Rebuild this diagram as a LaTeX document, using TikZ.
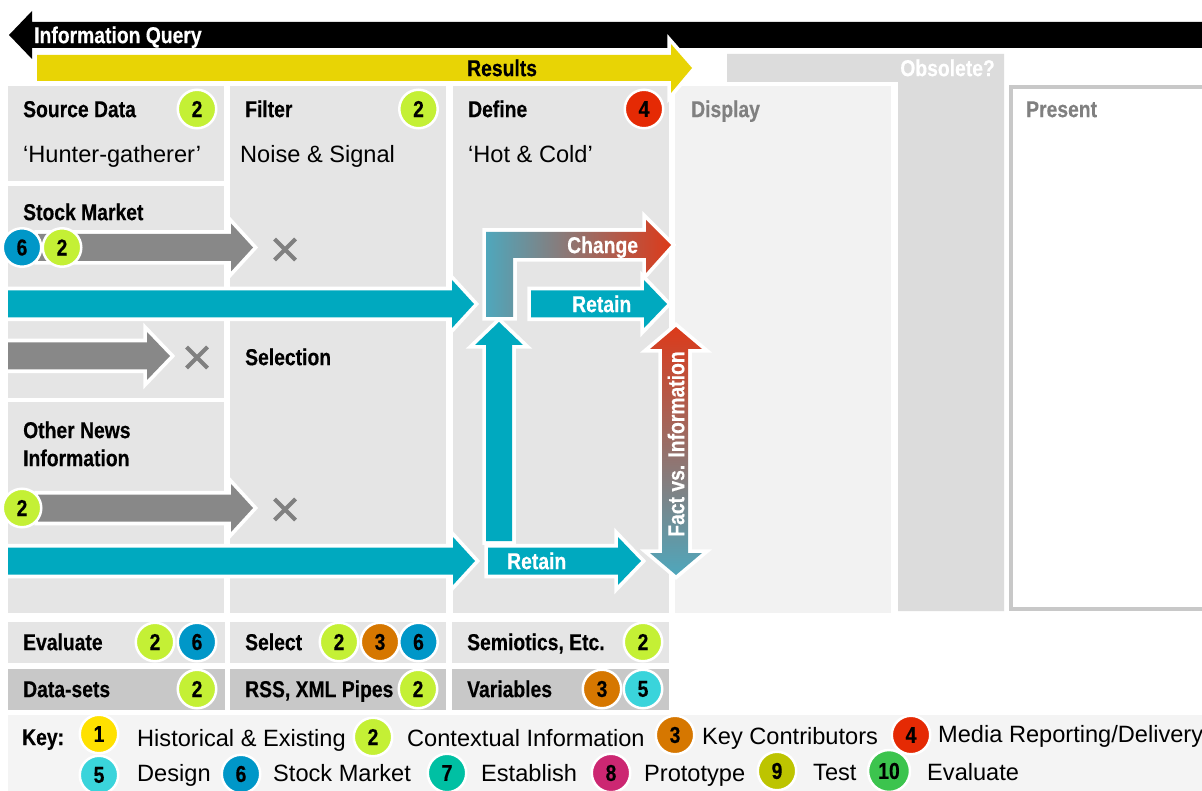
\documentclass[tikz,border=0pt]{standalone}
\usepackage{fontspec}
\setmainfont{Liberation Sans}
\newfontfamily\cnfont[FakeStretch=0.84,BoldFeatures={FakeBold=0.35}]{Liberation Sans}
\definecolor{panel}{HTML}{E5E5E5}
\definecolor{paneldark}{HTML}{C8C8C8}
\definecolor{displaybg}{HTML}{F2F2F2}
\definecolor{obsbg}{HTML}{DCDCDC}
\definecolor{keybg}{HTML}{F4F4F4}
\definecolor{teal}{HTML}{00A9BF}
\definecolor{tealsoft}{HTML}{4FA7BC}
\definecolor{redsoft}{HTML}{DC3A1A}
\definecolor{grayarrow}{HTML}{888888}
\definecolor{yellowarrow}{HTML}{E8D405}
\definecolor{greytext}{HTML}{808080}
\definecolor{cA}{HTML}{FFE100}
\definecolor{cB}{HTML}{C4F035}
\definecolor{cC}{HTML}{D67700}
\definecolor{cD}{HTML}{E52A04}
\definecolor{cE}{HTML}{3AD4DB}
\definecolor{cF}{HTML}{0097C8}
\definecolor{cG}{HTML}{00C0A3}
\definecolor{cH}{HTML}{CC2772}
\definecolor{cI}{HTML}{BDC400}
\definecolor{cJ}{HTML}{3CC44E}
\tikzset{
  badge/.style={circle,minimum size=38.5pt,inner sep=0pt,draw=white,line width=2.5pt,fill=#1,text=black,font=\cnfont\bfseries\fontsize{23}{23}\selectfont},
  lbl/.style={anchor=mid west,inner sep=0pt,yshift=-5.5pt,text=black,font=\cnfont\bfseries\fontsize{23}{23}\selectfont},
  lblw/.style={lbl,text=white},
  lblg/.style={lbl,text=greytext},
  lblv/.style={inner sep=0pt,rotate=90,anchor=center,text=white,font=\cnfont\bfseries\fontsize{23}{23}\selectfont},
  plain/.style={anchor=mid west,inner sep=0pt,yshift=-5.5pt,text=black,font=\fontsize{23.6}{23.6}\selectfont},
  halo/.style={draw=white,line width=7.5pt,line join=miter,miter limit=10},
  crossmark/.style={draw=greytext,line width=4pt},
}
% #1 xstart, #2 head back, #3 tip, #4 y centre, #5 fill options
\newcommand{\rarrow}[5]{%
  \path[halo] (#1,#4-13.5) -- (#2,#4-13.5) -- (#2,#4-24) -- (#3,#4) -- (#2,#4+24) -- (#2,#4+13.5) -- (#1,#4+13.5) -- cycle;
  \path[#5] (#1,#4-13.5) -- (#2,#4-13.5) -- (#2,#4-24) -- (#3,#4) -- (#2,#4+24) -- (#2,#4+13.5) -- (#1,#4+13.5) -- cycle;}
\begin{document}
\begin{tikzpicture}[x=1pt,y=-1pt]
\clip (0,0) rectangle (1202,791);
\fill[white] (0,0) rectangle (1202,791);
% panels
\fill[panel] (8,86) rectangle (224,181);
\fill[panel] (8,186) rectangle (224,287);
\fill[panel] (8,321) rectangle (224,398);
\fill[panel] (8,402) rectangle (224,613);
\fill[panel] (230,86) rectangle (446,287);
\fill[panel] (230,321) rectangle (446,613);
\fill[panel] (453,86) rectangle (669,613);
\fill[displaybg] (675,86) rectangle (891,613);
\fill[obsbg] (727,54) -- (1004,54) -- (1004,611) -- (898,611) -- (898,82) -- (727,82) -- cycle;
\draw[paneldark,line width=4pt] (1011,87) rectangle (1220,609);
\fill[panel] (8,622) rectangle (225,663);
\fill[panel] (230,622) rectangle (446,663);
\fill[panel] (452,622) rectangle (669,663);
\fill[paneldark] (8,669) rectangle (225,710);
\fill[paneldark] (230,669) rectangle (446,710);
\fill[paneldark] (452,669) rectangle (669,710);
\fill[keybg] (8,715) rectangle (1202,791);
% black query arrow
\fill[black] (9,35) -- (32,11) -- (32,22) -- (1202,22) -- (1202,48) -- (32,48) -- (32,59) -- cycle;
% yellow results arrow
\path[halo] (37,55) -- (671,55) -- (671,44) -- (692,68) -- (671,93) -- (671,81) -- (37,81) -- cycle;
\fill[yellowarrow] (37,55) -- (671,55) -- (671,44) -- (692,68) -- (671,93) -- (671,81) -- (37,81) -- cycle;
% grey arrows
\rarrow{38}{231}{253}{247.5}{fill=grayarrow}
\rarrow{8}{147}{170}{356}{fill=grayarrow}
\rarrow{38}{231}{253}{508}{fill=grayarrow}
% teal long arrows
\rarrow{8}{452}{474}{304}{fill=teal}
\rarrow{8}{453}{475}{561}{fill=teal}
% vertical teal
\path[halo] (486,541) -- (486,345) -- (475,345) -- (499,322) -- (523,345) -- (512,345) -- (512,541) -- cycle;
\fill[teal] (486,541) -- (486,345) -- (475,345) -- (499,322) -- (523,345) -- (512,345) -- (512,541) -- cycle;
% change arrow
\path[halo] (486,317) -- (486,232) -- (646,232) -- (646,220) -- (671,245) -- (646,273) -- (646,258) -- (513,258) -- (513,317) -- cycle;
\shade[left color=tealsoft,right color=redsoft] (486,317) -- (486,232) -- (646,232) -- (646,220) -- (671,245) -- (646,273) -- (646,258) -- (513,258) -- (513,317) -- cycle;
% retain arrows
\rarrow{531}{644}{667}{304}{fill=teal}
\rarrow{488}{618}{641}{561}{fill=teal}
% fact vs information
\path[halo] (662,349) -- (650,349) -- (676,327) -- (702,349) -- (688,349) -- (688,553) -- (702,553) -- (676,575) -- (650,553) -- (662,553) -- cycle;
\shade[top color=redsoft,bottom color=tealsoft] (662,349) -- (650,349) -- (676,327) -- (702,349) -- (688,349) -- (688,553) -- (702,553) -- (676,575) -- (650,553) -- (662,553) -- cycle;
% crosses
\draw[crossmark] (274.5,239) -- (295.5,260) (274.5,260) -- (295.5,239);
\draw[crossmark] (186.5,347) -- (207.5,368) (186.5,368) -- (207.5,347);
\draw[crossmark] (274.5,499) -- (295.5,520) (274.5,520) -- (295.5,499);
% arrow and header labels
\node[lblw] (tq) at (34,35) {Information Query};
\node[lbl] (tr) at (467,68) {Results};
\node[lblw,anchor=mid east] (to) at (995,68) {Obsolete?};
\node[lblw] (tc) at (567,245) {Change};
\node[lblw] (tr2) at (572,304) {Retain};
\node[lblw] (tr3) at (507,561) {Retain};
\node[lblv] (tf) at (676,444) {Fact vs. Information};
\node[lbl] (t1) at (23,109) {Source Data};
\node[plain] (t2) at (23,154) {‘Hunter-gatherer’};
\node[lbl] (t3) at (245,109) {Filter};
\node[plain] (t4) at (240,154) {Noise \& Signal};
\node[lbl] (t5) at (468,109) {Define};
\node[plain] (t6) at (468,154) {‘Hot \& Cold’};
\node[lblg] (t7) at (691,109) {Display};
\node[lblg] (t8) at (1026,109) {Present};
\node[lbl] (t9) at (23,212) {Stock Market};
\node[lbl] (t10) at (245,357) {Selection};
\node[lbl] (t11) at (23,430) {Other News};
\node[lbl] (t12) at (23,458) {Information};
\node[lbl] (t13) at (23,642) {Evaluate};
\node[lbl] (t14) at (245,642) {Select};
\node[lbl] (t15) at (467,642) {Semiotics, Etc.};
\node[lbl] (t16) at (23,689) {Data-sets};
\node[lbl] (t17) at (245,689) {RSS, XML Pipes};
\node[lbl] (t18) at (467,689) {Variables};
\node[lbl] (t19) at (22,737) {Key:};
\node[plain] (k1) at (137,738) {Historical \& Existing};
\node[plain] (k2) at (407,738) {Contextual Information};
\node[plain] (k3) at (702,736) {Key Contributors};
\node[plain] (k4) at (938,734) {Media Reporting/Delivery};
\node[plain] (k5) at (137,773) {Design};
\node[plain] (k6) at (273,773) {Stock Market};
\node[plain] (k7) at (481,773) {Establish};
\node[plain] (k8) at (644,773) {Prototype};
\node[plain] (k9) at (813,772) {Test};
\node[plain] (k10) at (927,772) {Evaluate};
% badges
\node[badge=cB] (b1) at (197,109) {2};
\node[badge=cB] (b2) at (418.5,109) {2};
\node[badge=cD] (b3) at (644,109) {4};
\node[badge=cF] (b4) at (22,247.5) {6};
\node[badge=cB] (b5) at (62,247.5) {2};
\node[badge=cB] (b6) at (22,508) {2};
\node[badge=cB] (b7) at (155,642) {2};
\node[badge=cF] (b8) at (197,642) {6};
\node[badge=cB] (b9) at (339,642) {2};
\node[badge=cC] (b10) at (380,642) {3};
\node[badge=cF] (b11) at (418.5,642) {6};
\node[badge=cB] (b12) at (643,642) {2};
\node[badge=cB] (b13) at (197,689) {2};
\node[badge=cB] (b14) at (418,689) {2};
\node[badge=cC] (b15) at (602,689) {3};
\node[badge=cE] (b16) at (643,689) {5};
\node[badge=cA] (b17) at (99,734) {1};
\node[badge=cB] (b18) at (373,737) {2};
\node[badge=cC] (b19) at (675,735) {3};
\node[badge=cD] (b20) at (911,735) {4};
\node[badge=cE] (b21) at (99,775) {5};
\node[badge=cF] (b22) at (241,774) {6};
\node[badge=cG] (b23) at (447,773) {7};
\node[badge=cH] (b24) at (611,773) {8};
\node[badge=cI] (b25) at (777,771) {9};
\node[badge=cJ,minimum size=42pt] (b26) at (889,771) {10};
\end{tikzpicture}
\end{document}
